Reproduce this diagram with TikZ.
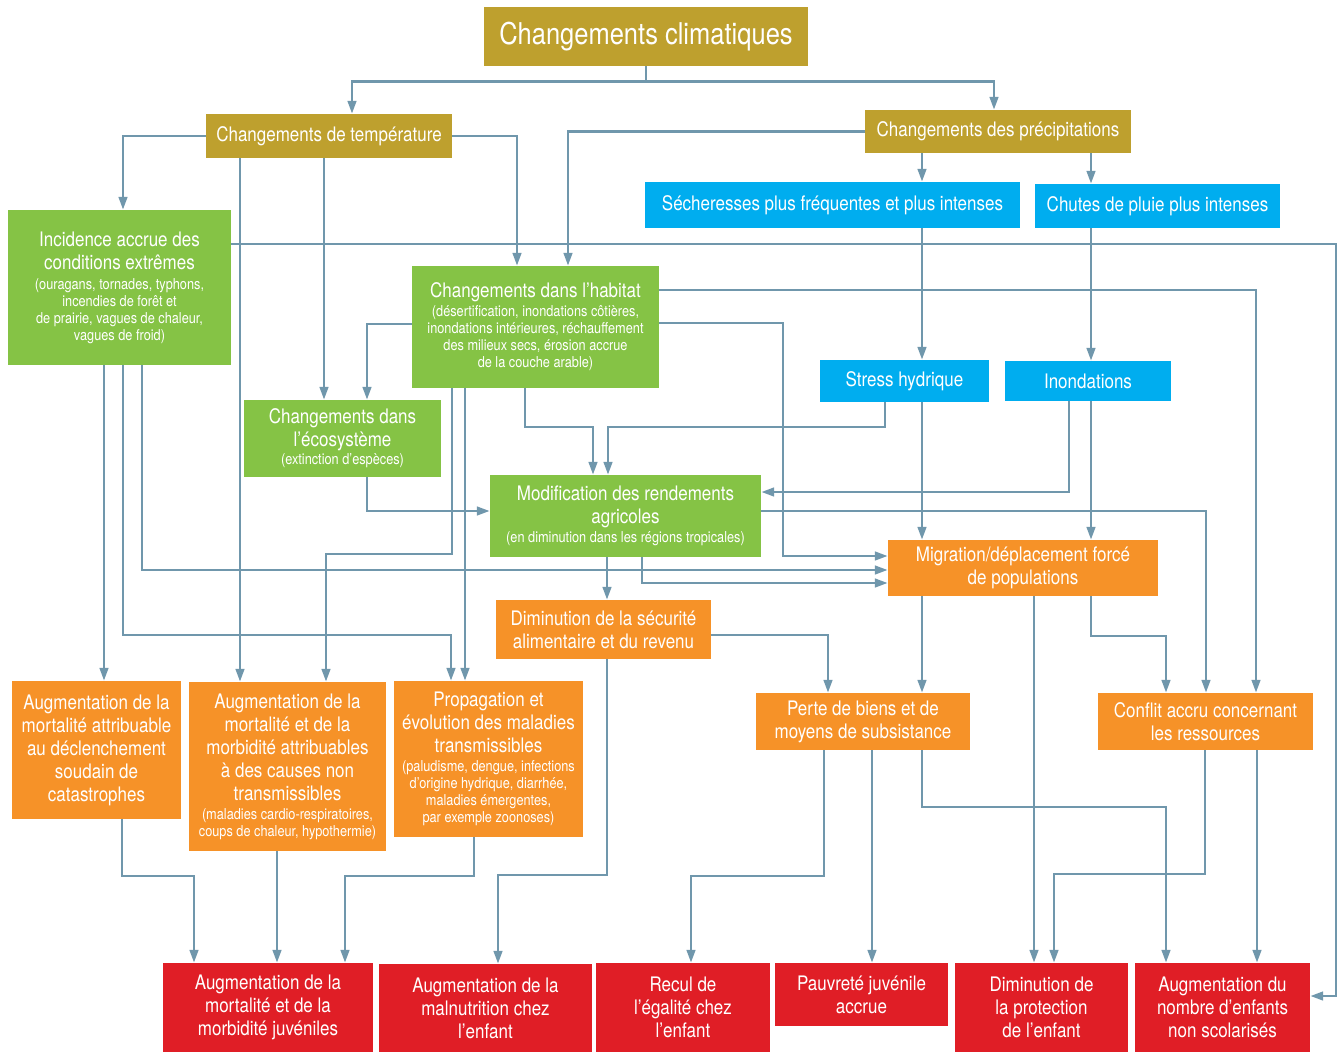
\documentclass[tikz,border=0pt]{standalone}
\usepackage{fontspec}
\setmainfont[FakeStretch=0.85]{TeX Gyre Heros}
\usetikzlibrary{arrows.meta}

\definecolor{ocre}{RGB}{190,160,46}
\definecolor{ciel}{RGB}{0,173,239}
\definecolor{herbe}{RGB}{133,195,69}
\definecolor{abricot}{RGB}{246,146,40}
\definecolor{carmin}{RGB}{224,30,38}
\definecolor{trait}{RGB}{112,151,172}
\newcommand{\petit}{\fontsize{15}{17}\selectfont}

\begin{document}
\begin{tikzpicture}[x=1pt,y=-1pt,
		boite/.style={inner sep=0pt, align=center, text=white, font=\fontsize{20}{23}\selectfont},
		bocre/.style={boite, fill=ocre},
		bbleu/.style={boite, fill=ciel},
		bvert/.style={boite, fill=herbe},
		borange/.style={boite, fill=abricot},
		brouge/.style={boite, fill=carmin},
		fl/.style={draw=trait, line width=2.8pt, -{Triangle[length=13pt,width=8.5pt]}}]
	\fill[white] (0,0) rectangle (1342,1052);
	\useasboundingbox (0,0) rectangle (1342,1052);

	% causes
	\node[bocre, minimum width=324pt, minimum height=59pt, font=\fontsize{30}{34}\selectfont] (clim) at (646,36.5) {Changements climatiques};
	\node[bocre, minimum width=246pt, minimum height=44pt] (temp) at (329,136) {Changements de température};
	\node[bocre, minimum width=266pt, minimum height=43pt] (precip) at (998,131.5) {Changements des précipitations};
	\node[bbleu, minimum width=375pt, minimum height=46pt] (sech) at (832.5,205) {Sécheresses plus fréquentes et plus intenses};
	\node[bbleu, minimum width=245pt, minimum height=44pt] (pluie) at (1157.5,206) {Chutes de pluie plus intenses};

	% effets
	\node[bvert, minimum width=223pt, minimum height=155pt] (extr) at (119.5,287.5) {Incidence accrue des\\conditions extrêmes\\[-3pt]{\petit (ouragans, tornades, typhons,}\\[-6pt]{\petit incendies de forêt et}\\[-6pt]{\petit de prairie, vagues de chaleur,}\\[-6pt]{\petit vagues de froid)}};
	\node[bvert, minimum width=247pt, minimum height=122pt] (habitat) at (535.5,327) {Changements dans l’habitat\\[-4pt]{\petit (désertification, inondations côtières,}\\[-6pt]{\petit inondations intérieures, réchauffement}\\[-6pt]{\petit des milieux secs, érosion accrue}\\[-6pt]{\petit de la couche arable)}};
	\node[bvert, minimum width=197pt, minimum height=77pt] (ecos) at (342.5,438.5) {Changements dans\\l’écosystème\\[-5pt]{\petit (extinction d’espèces)}};
	\node[bbleu, minimum width=169pt, minimum height=42pt] (stress) at (904.5,381) {Stress hydrique};
	\node[bbleu, minimum width=166pt, minimum height=40pt] (inond) at (1088,381) {Inondations};
	\node[bvert, minimum width=271pt, minimum height=82pt] (rend) at (625.5,516) {Modification des rendements\\agricoles\\[-4pt]{\petit (en diminution dans les régions tropicales)}};
	\node[borange, minimum width=270pt, minimum height=56pt] (migr) at (1023,568) {Migration/déplacement forcé\\de populations};
	\node[borange, minimum width=215pt, minimum height=59pt] (secu) at (603.5,629.5) {Diminution de la sécurité\\alimentaire et du revenu};
	\node[borange, minimum width=214pt, minimum height=57pt] (perte) at (863,721.5) {Perte de biens et de\\moyens de subsistance};
	\node[borange, minimum width=215pt, minimum height=57pt] (conflit) at (1205.5,721.5) {Conflit accru concernant\\les ressources};
	\node[borange, minimum width=169pt, minimum height=138pt] (mortcat) at (96.5,750) {Augmentation de la\\mortalité attribuable\\au déclenchement\\soudain de\\catastrophes};
	\node[borange, minimum width=197pt, minimum height=169pt] (mortnt) at (287.5,766.5) {Augmentation de la\\mortalité et de la\\morbidité attribuables\\à des causes non\\transmissibles\\[-4pt]{\petit (maladies cardio-respiratoires,}\\[-6pt]{\petit coups de chaleur, hypothermie)}};
	\node[borange, minimum width=189pt, minimum height=156pt] (propag) at (488.5,759) {Propagation et\\évolution des maladies\\transmissibles\\[-4pt]{\petit (paludisme, dengue, infections}\\[-6pt]{\petit d’origine hydrique, diarrhée,}\\[-6pt]{\petit maladies émergentes,}\\[-6pt]{\petit par exemple zoonoses)}};

	% enfants
	\node[brouge, minimum width=210pt, minimum height=89pt] (juv) at (268,1007.5) {Augmentation de la\\mortalité et de la\\morbidité juvéniles};
	\node[brouge, minimum width=213pt, minimum height=88pt] (maln) at (485.5,1008) {Augmentation de la\\malnutrition chez\\l’enfant};
	\node[brouge, minimum width=174pt, minimum height=89pt] (recul) at (683,1007.5) {Recul de\\l’égalité chez\\l’enfant};
	\node[brouge, minimum width=173pt, minimum height=63pt] (pauv) at (861.5,994.5) {Pauvreté juvénile\\accrue};
	\node[brouge, minimum width=173pt, minimum height=89pt] (prot) at (1041.5,1007.5) {Diminution de\\la protection\\de l’enfant};
	\node[brouge, minimum width=175pt, minimum height=89pt] (scol) at (1222.5,1007.5) {Augmentation du\\nombre d’enfants\\non scolarisés};

	% liens du haut
	\draw[fl] (clim.south) -- ++(0,15) -| (temp.north -| 352,0);
	\draw[fl] (clim.south) -- ++(0,15) -| (precip.north -| 994,0);
	\draw[fl] (temp.west) -| (extr.north -| 123,0);
	\draw[fl] (temp.east) -| (habitat.north -| 517,0);
	\draw[fl] (temp.south -| 240,0) -- (mortnt.north -| 240,0);
	\draw[fl] (temp.south -| 324,0) -- (ecos.north -| 324,0);
	\draw[fl] (precip.west) -| (habitat.north -| 568,0);
	\draw[fl] (precip.south -| 922,0) -- (sech.north -| 922,0);
	\draw[fl] (precip.south -| 1091,0) -- (pluie.north -| 1091,0);
	\draw[fl] (sech.south -| 922,0) -- (stress.north -| 922,0);
	\draw[fl] (pluie.south -| 1091,0) -- (inond.north -| 1091,0);

	% conditions extremes
	\draw[fl] (extr.east |- 0,244) -- (1336,244) |- (scol.east |- 0,996);
	\draw[fl] (extr.south -| 104,0) -- (mortcat.north -| 104,0);
	\draw[fl] (extr.south -| 123,0) |- (451,635) -- (propag.north -| 451,0);
	\draw[fl] (extr.south -| 142,0) |- (migr.west |- 0,570);

	% habitat
	\draw[fl] (habitat.west |- 0,324) -| (ecos.north -| 367,0);
	\draw[fl] (habitat.east |- 0,290) -| (conflit.north -| 1256,0);
	\draw[fl] (habitat.east |- 0,323) -| (783,556) -- (migr.west |- 0,556);
	\draw[fl] (habitat.south -| 452,0) |- (326,554) -- (mortnt.north -| 326,0);
	\draw[fl] (habitat.south -| 465,0) -- (propag.north -| 465,0);
	\draw[fl] (habitat.south -| 525,0) |- (593,427) -- (rend.north -| 593,0);

	% eau
	\draw[fl] (stress.south -| 885,0) |- (608,427) -- (rend.north -| 608,0);
	\draw[fl] (stress.south -| 922,0) -- (migr.north -| 922,0);
	\draw[fl] (inond.south -| 1069,0) |- (rend.east |- 0,492);
	\draw[fl] (inond.south -| 1091,0) -- (migr.north -| 1091,0);

	% rendements
	\draw[fl] (ecos.south -| 367,0) |- (rend.west |- 0,511);
	\draw[fl] (rend.east |- 0,511) -| (conflit.north -| 1206,0);
	\draw[fl] (rend.south -| 607,0) -- (secu.north -| 607,0);
	\draw[fl] (rend.south -| 642,0) |- (migr.west |- 0,583);

	% securite, migration
	\draw[fl] (secu.east |- 0,635) -| (perte.north -| 828,0);
	\draw[fl] (secu.south -| 607,0) |- (498,875) -- (maln.north -| 498,0);
	\draw[fl] (migr.south -| 922,0) -- (perte.north -| 922,0);
	\draw[fl] (migr.south -| 1034,0) -- (prot.north -| 1034,0);
	\draw[fl] (migr.south -| 1091,0) |- (1166,636) -- (conflit.north -| 1166,0);

	% vers les enfants
	\draw[fl] (perte.south -| 824,0) |- (691,876) -- (recul.north -| 691,0);
	\draw[fl] (perte.south -| 872,0) -- (pauv.north -| 872,0);
	\draw[fl] (perte.south -| 922,0) |- (1166,807) -- (scol.north -| 1166,0);
	\draw[fl] (conflit.south -| 1205,0) |- (1054,874) -- (prot.north -| 1054,0);
	\draw[fl] (conflit.south -| 1257,0) -- (scol.north -| 1257,0);
	\draw[fl] (mortcat.south -| 122,0) |- (194,876) -- (juv.north -| 194,0);
	\draw[fl] (mortnt.south -| 277,0) -- (juv.north -| 277,0);
	\draw[fl] (propag.south -| 474,0) |- (345,876) -- (juv.north -| 345,0);
\end{tikzpicture}
\end{document}
